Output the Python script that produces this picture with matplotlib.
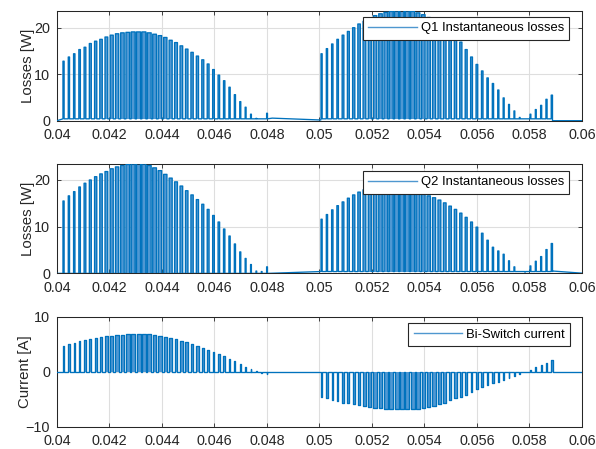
import numpy as np
import matplotlib
matplotlib.use('Agg')
import matplotlib.pyplot as plt
from matplotlib.ticker import FuncFormatter

plt.rcParams['font.family'] = ['Liberation Sans', 'DejaVu Sans']

# Colours (MATLAB-like defaults)
BLUE = '#0072BD'
FILL = '#4f98d3'
LEG_LINE = '#4f97cf'
AX_COLOR = '#262626'
GRID = '#dedede'

# Switching grid: period and first pulse of each half cycle [s]
T_SW = 0.000204
T0_A = 0.04025
T0_B = 0.05008

# On-time fraction of each pulse
duty_a = [0.22, 0.24, 0.26, 0.29, 0.33, 0.37, 0.42, 0.47, 0.52, 0.57,
          0.62, 0.66, 0.70, 0.73, 0.75, 0.75, 0.73, 0.70, 0.66, 0.62,
          0.58, 0.54, 0.50, 0.47, 0.44, 0.41, 0.38, 0.35, 0.32, 0.29,
          0.26, 0.24, 0.22, 0.20, 0.18, 0.16, 0.14, 0.14, 0.16]
duty_b = [0.22, 0.24, 0.26, 0.29, 0.33, 0.37, 0.42, 0.47, 0.52, 0.57,
          0.62, 0.66, 0.70, 0.73, 0.75, 0.75, 0.75, 0.73, 0.70, 0.66,
          0.62, 0.58, 0.54, 0.50, 0.47, 0.44, 0.41, 0.38, 0.35, 0.32,
          0.29, 0.26, 0.24, 0.22, 0.20, 0.18, 0.16, 0.14, 0.14, 0.16,
          0.18, 0.20, 0.22, 0.24]

# Q1 losses per pulse [W]
q1_a = [12.8, 13.7, 14.4, 15.3, 15.8, 16.6, 17.1, 17.5, 18.0, 18.4,
        18.7, 18.9, 19.0, 19.1, 19.1, 19.1, 18.9, 18.6, 18.3, 17.9,
        17.3, 16.8, 16.1, 15.4, 14.7, 13.9, 13.1, 12.2, 11.0, 9.8,
        8.6, 7.2, 5.6, 4.1, 2.9, 1.4, 0.5, 0.4, 1.6]
q1_b = [14.4, 15.5, 16.5, 17.5, 18.4, 19.2, 20.0, 20.8, 21.4, 22.0,
        22.6, 23.0, 23.3, 23.5, 23.6, 23.7, 23.6, 23.5, 23.2, 22.8,
        22.2, 21.4, 20.5, 19.6, 18.8, 17.8, 16.9, 15.3, 13.7, 12.1,
        10.7, 9.2, 8.0, 6.6, 4.9, 3.5, 2.1, 0.7, 0.4, 1.4,
        2.4, 3.3, 4.6, 5.5]

# Q2 losses per pulse [W]
q2_a = [15.5, 16.6, 17.5, 18.5, 19.3, 20.0, 20.7, 21.3, 21.8, 22.4,
        22.8, 23.1, 23.3, 23.4, 23.5, 23.4, 23.1, 22.6, 22.0, 21.2,
        20.4, 19.6, 18.7, 17.7, 16.8, 15.8, 14.8, 13.7, 12.4, 11.0,
        9.5, 8.0, 6.3, 4.6, 3.2, 1.9, 0.5, 0.4, 1.4]
q2_b = [11.6, 12.6, 13.6, 14.5, 15.3, 16.1, 16.8, 17.4, 17.9, 18.3,
        18.6, 18.9, 19.1, 19.2, 19.2, 19.0, 18.6, 18.1, 17.6, 17.1,
        16.6, 16.2, 15.7, 15.1, 14.4, 13.7, 12.9, 12.0, 11.0, 9.9,
        8.6, 7.1, 5.6, 4.8, 4.1, 2.7, 1.4, 0.4, 0.3, 1.6,
        2.6, 3.6, 5.1, 6.4]

# Bi-switch current per pulse [A]
isw_a = [4.7, 5.0, 5.3, 5.6, 5.8, 5.9, 6.1, 6.3, 6.5, 6.6,
         6.7, 6.75, 6.8, 6.85, 6.85, 6.85, 6.8, 6.75, 6.6, 6.4,
         6.2, 5.95, 5.65, 5.35, 5.0, 4.7, 4.35, 4.0, 3.55, 3.2,
         2.8, 2.3, 1.9, 1.4, 0.9, 0.5, 0.2, -0.2, -0.4]
isw_b = [-4.5, -4.8, -5.15, -5.3, -5.6, -5.75, -5.9, -6.1, -6.25, -6.35,
         -6.5, -6.6, -6.7, -6.8, -6.85, -6.85, -6.85, -6.8, -6.7, -6.55,
         -6.4, -6.15, -5.9, -5.6, -5.2, -4.85, -4.5, -4.2, -3.7, -3.2,
         -2.8, -2.4, -2.1, -1.8, -1.5, -1.2, -0.8, -0.4, -0.1, 0.3,
         0.9, 1.2, 1.6, 2.1]

# Off-state level between pulses (first half, second half)
q1_off = (0.4, 0.4)
q2_off = (0.0, 0.4)
# Slow decay while the switch rests
q1_gap_t = [0.0482, 0.05005]
q1_gap_v = [0.55, 0.15]
q2_end_t = [0.0589, 0.06]
q2_end_v = [0.5, 0.05]

x_ticks = [0.04, 0.042, 0.044, 0.046, 0.048, 0.05, 0.052, 0.054, 0.056, 0.058, 0.06]


def pulse_edges(t0, duty, peaks, base):
    t, y = [], []
    for k, (d, h) in enumerate(zip(duty, peaks)):
        tc = t0 + k * T_SW
        ton, toff = tc - d * T_SW / 2, tc + d * T_SW / 2
        t += [ton, ton, toff, toff]
        y += [base, h, h, base]
    return t, y


def draw_train(ax, t0, duty, peaks, base):
    centers = [t0 + k * T_SW for k in range(len(peaks))]
    widths = [d * T_SW for d in duty]
    heights = [h - base for h in peaks]
    ax.bar(centers, heights, width=widths, bottom=base, color=FILL,
           linewidth=0, zorder=2)


def style_axes(ax, yticks, ylim, ylabel, label_x):
    ax.set_xlim(0.04, 0.06)
    ax.set_ylim(*ylim)
    ax.set_xticks(x_ticks)
    ax.set_yticks(yticks)
    ax.xaxis.set_major_formatter(FuncFormatter(lambda v, p: f'{v:g}'))
    ax.grid(True, color=GRID, linewidth=0.8)
    ax.set_axisbelow(True)
    ax.tick_params(direction='in', length=3, width=0.6, top=True, right=True,
                   colors=AX_COLOR, labelsize=10.4)
    ax.tick_params(axis='x', pad=5.5)
    ax.tick_params(axis='y', pad=5)
    for s in ax.spines.values():
        s.set_color(AX_COLOR)
        s.set_linewidth(0.75)
    ax.set_ylabel(ylabel, fontsize=10.8, color=AX_COLOR)
    ax.yaxis.set_label_coords(label_x, 0.5)


def add_legend(ax, line, text, anchor):
    leg = ax.legend([line], [text], loc='upper right', bbox_to_anchor=anchor,
                    borderaxespad=0, fontsize=9.4, handlelength=3.7,
                    handletextpad=0.3, borderpad=0.42, fancybox=False,
                    framealpha=1, edgecolor=AX_COLOR)
    leg.get_frame().set_linewidth(0.8)
    leg.get_lines()[0].set_color(LEG_LINE)
    leg.get_lines()[0].set_linewidth(1.0)
    leg.set_zorder(10)


fig = plt.figure(figsize=(5.96, 4.49), dpi=100)
ax1 = fig.add_axes([0.0956, 0.7312, 0.8809, 0.2454])
ax2 = fig.add_axes([0.0956, 0.3911, 0.8809, 0.2445])
ax3 = fig.add_axes([0.0956, 0.0494, 0.8809, 0.2450])

# Q1 losses
ta, ya = pulse_edges(T0_A, duty_a, q1_a, q1_off[0])
tb, yb = pulse_edges(T0_B, duty_b, q1_b, q1_off[1])
t = [0.04, ta[0]] + ta + q1_gap_t + tb + [tb[-1], 0.06]
y = [0.0, q1_off[0]] + ya + q1_gap_v + yb + [0.0, 0.0]
draw_train(ax1, T0_A, duty_a, q1_a, q1_off[0])
draw_train(ax1, T0_B, duty_b, q1_b, q1_off[1])
l1, = ax1.plot(t, y, color=BLUE, linewidth=0.95, zorder=3)
style_axes(ax1, [0, 10, 20], (0, max(q1_a + q1_b)), 'Losses [W]', -0.042)
add_legend(ax1, l1, 'Q1 Instantaneous losses', (0.9758, 0.9437))

# Q2 losses
ta, ya = pulse_edges(T0_A, duty_a, q2_a, q2_off[0])
tb, yb = pulse_edges(T0_B, duty_b, q2_b, q2_off[1])
t = [0.04] + ta + [tb[0]] + tb + q2_end_t
y = [0.0] + ya + [q2_off[1]] + yb + q2_end_v
draw_train(ax2, T0_A, duty_a, q2_a, q2_off[0])
draw_train(ax2, T0_B, duty_b, q2_b, q2_off[1])
l2, = ax2.plot(t, y, color=BLUE, linewidth=0.95, zorder=3)
style_axes(ax2, [0, 10, 20], (0, max(q2_a + q2_b)), 'Losses [W]', -0.042)
add_legend(ax2, l2, 'Q2 Instantaneous losses', (0.9758, 0.936))

# Bi-switch current
ta, ya = pulse_edges(T0_A, duty_a, isw_a, 0.0)
tb, yb = pulse_edges(T0_B, duty_b, isw_b, 0.0)
t = [0.04] + ta + tb + [0.06]
y = [0.0] + ya + yb + [0.0]
draw_train(ax3, T0_A, duty_a, isw_a, 0.0)
draw_train(ax3, T0_B, duty_b, isw_b, 0.0)
l3, = ax3.plot(t, y, color=BLUE, linewidth=0.95, zorder=3)
style_axes(ax3, [-10, 0, 10], (-10, 10), 'Current [A]', -0.048)
add_legend(ax3, l3, 'Bi-Switch current', (0.9777, 0.941))

fig.savefig('out.png', dpi=100)
